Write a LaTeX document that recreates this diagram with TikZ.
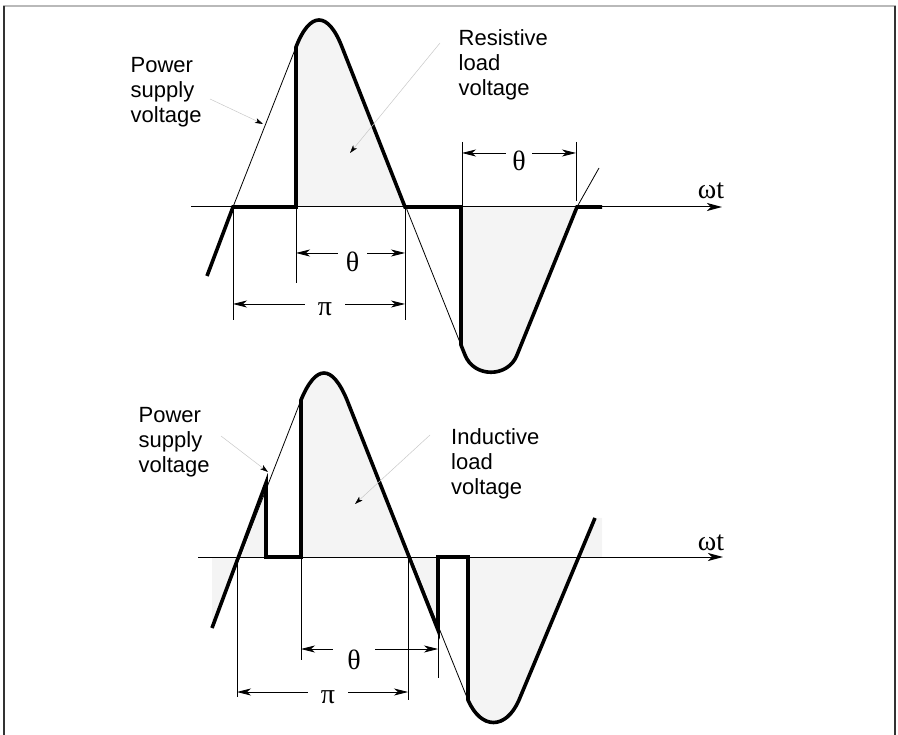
\documentclass[tikz,border=0pt]{standalone}
\usepackage{fontspec}
\setmainfont{Liberation Sans}
\newfontfamily\symfont{Liberation Serif}
\usetikzlibrary{arrows.meta}
\definecolor{lightfill}{RGB}{244,244,244}
\definecolor{pointgray}{RGB}{200,200,200}

\tikzset{
  waxis/.style={line width=1pt,-{Stealth[length=15pt,width=8pt,inset=4pt]}},
  load/.style={line width=3.6pt,line join=miter},
  supply/.style={line width=0.8pt},
  ext/.style={line width=0.8pt},
  dim/.style={line width=0.8pt,-{Stealth[length=14pt,width=7pt,inset=4pt]}},
  pointer/.style={line width=0.5pt,pointgray,-{Stealth[black,length=8pt,width=5pt,inset=2pt]}},
  lbl/.style={font=\fontsize{22}{25}\selectfont,align=left,inner sep=0pt,anchor=north west},
  greek/.style={font=\symfont\fontsize{28}{28}\selectfont,inner sep=0pt},
}

\begin{document}
\begin{tikzpicture}[x=1pt,y=-1pt]
  \useasboundingbox (0,0) rectangle (898,735);
  %% frame
  \draw[gray!55,line width=1.6pt] (3,6) -- (896,6);
  \draw[black!80,line width=1.4pt] (4,6) -- (4,735) (895,6) -- (895,735);

  %% resistive load
  \fill[lightfill] (296,207) -- (296,47) .. controls (310,11) and (328,11) .. (342,47)
      -- (405,207) -- cycle;
  \fill[lightfill] (461,207) -- (461,345) -- (465,355) .. controls (474,378) and (508,378) .. (517,355)
      -- (577,207) -- cycle;
  \draw[waxis] (191,207) -- (722,207);
  \node[greek] (wtA) at (711,191) {ωt};
  \draw[supply] (233,207) -- (296,47) .. controls (310,11) and (328,11) .. (342,47)
      -- (465,355) .. controls (474,378) and (508,378) .. (517,355) -- (577,207) -- (599,168);
  \draw[load] (207,276) -- (233,207) -- (296,207) -- (296,47)
      .. controls (310,11) and (328,11) .. (342,47) -- (405,207) -- (461,207) -- (461,345)
      -- (465,355) .. controls (474,378) and (508,378) .. (517,355) -- (577,207) -- (602,207);

  %% dimensions, top
  \draw[ext] (296,207) -- (296,283);
  \draw[ext] (405,207) -- (405,320);
  \draw[ext] (233,207) -- (233,320);
  \draw[ext] (462,142) -- (462,207);
  \draw[ext] (576,142) -- (576,201);
  \coordinate (thAl) at (296,253);
  \coordinate (thAr) at (405,253);
  \node[greek,minimum width=29pt] (thA) at (352.5,262) {θ};
  \draw[dim] (thA.west |- thAl) -- (thAl);
  \draw[dim] (thA.east |- thAr) -- (thAr);
  \coordinate (piAl) at (233,304);
  \coordinate (piAr) at (405,304);
  \node[greek,minimum width=40pt] (piA) at (325,309) {π};
  \draw[dim] (piA.west |- piAl) -- (piAl);
  \draw[dim] (piA.east |- piAr) -- (piAr);
  \coordinate (thBl) at (462,153);
  \coordinate (thBr) at (576,153);
  \node[greek,minimum width=26pt] (thB) at (519,161) {θ};
  \draw[dim] (thB.west |- thBl) -- (thBl);
  \draw[dim] (thB.east |- thBr) -- (thBr);

  %% labels, top
  \node[lbl] (supA) at (130.5,57) {Power\\supply\\voltage};
  \node[lbl] (resA) at (458.5,29) {Resistive\\load\\voltage};
  \coordinate (supAp) at (210,99);
  \coordinate (supAt) at (263,124);
  \draw[pointer] (supAp) -- (supAt);
  \coordinate (resAp) at (440,43);
  \coordinate (resAt) at (350,153);
  \draw[pointer] (resAp) -- (resAt);

  %% inductive load
  \fill[lightfill] (212,557) -- (212,628) -- (266,483) -- (266,557) -- (301,557) -- (301,400)
      .. controls (316,364) and (332,364) .. (347,400) -- (438,630) -- (438,557) -- (468,557)
      -- (468,700) .. controls (481,730) and (506,730) .. (519,700) -- (595,518) -- (602,518)
      -- (602,557) -- cycle;
  \draw[waxis] (198,557) -- (723,557);
  \node[greek] (wtB) at (711,543) {ωt};
  \draw[supply] (212,628) -- (301,400) .. controls (316,364) and (332,364) .. (347,400)
      -- (468,700) .. controls (481,730) and (506,730) .. (519,700) -- (595,518);
  \draw[load] (212,628) -- (266,483) -- (266,557) -- (301,557) -- (301,400)
      .. controls (316,364) and (332,364) .. (347,400) -- (438,630) -- (438,557) -- (468,557)
      -- (468,700) .. controls (481,730) and (506,730) .. (519,700) -- (595,518);

  %% dimensions, bottom
  \draw[ext] (301,557) -- (301,660);
  \draw[ext] (438,630) -- (438,678);
  \draw[ext] (237,557) -- (237,697);
  \draw[ext] (408,557) -- (408,700);
  \coordinate (thCl) at (301,649);
  \coordinate (thCr) at (438,649);
  \node[greek,minimum width=42pt] (thC) at (354,660) {θ};
  \draw[dim] (thC.west |- thCl) -- (thCl);
  \draw[dim] (thC.east |- thCr) -- (thCr);
  \coordinate (piCl) at (237,692);
  \coordinate (piCr) at (408,692);
  \node[greek,minimum width=40pt] (piC) at (328,697) {π};
  \draw[dim] (piC.west |- piCl) -- (piCl);
  \draw[dim] (piC.east |- piCr) -- (piCr);

  %% labels, bottom
  \node[lbl] (supB) at (138.5,407) {Power\\supply\\voltage};
  \node[lbl] (indB) at (451,428) {Inductive\\load\\voltage};
  \coordinate (supBp) at (221,436);
  \coordinate (supBt) at (268,472);
  \draw[pointer] (supBp) -- (supBt);
  \coordinate (indBp) at (430,435);
  \coordinate (indBt) at (355,504);
  \draw[pointer] (indBp) -- (indBt);
\end{tikzpicture}
\end{document}
